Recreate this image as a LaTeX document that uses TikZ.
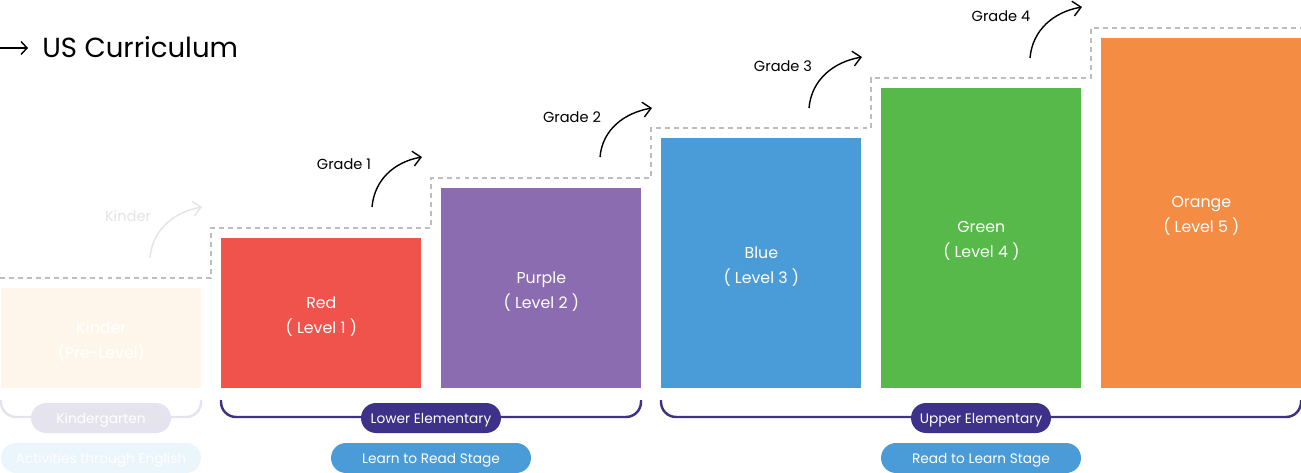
\documentclass[tikz,border=0pt]{standalone}
\usepackage{fontspec}
\setmainfont{Poppins}
\usepackage{xcolor}
\usetikzlibrary{positioning,arrows.meta,calc}

\definecolor{kinderbg}{HTML}{FFF6EB}
\definecolor{redlvl}{HTML}{F0534B}
\definecolor{purplelvl}{HTML}{8C6CB0}
\definecolor{bluelvl}{HTML}{4A9CD8}
\definecolor{greenlvl}{HTML}{56B94A}
\definecolor{orangelvl}{HTML}{F58C43}
\definecolor{stairgray}{HTML}{BDBDBD}
\definecolor{fadegray}{HTML}{E4E4E4}
\definecolor{elempurple}{HTML}{3E3189}
\definecolor{kinderpill}{HTML}{E5E4EE}
\definecolor{activpill}{HTML}{EBF5FC}

\begin{document}
\begin{tikzpicture}[
  x=0.02cm, y=-0.02cm,
  level/.style={rectangle, anchor=south west, minimum width=4cm, inner sep=0pt},
  lvltext/.style={inner sep=0pt, text=white, align=center, font=\fontsize{9}{14.2}\selectfont},
  stair/.style={draw=stairgray, dash pattern=on 2.8pt off 2.3pt, line width=1.1pt},
  gradearrow/.style={-{Straight Barb[length=0.16cm, width=0.3cm]}, line width=0.8pt},
  gradelabel/.style={inner sep=0pt, font=\fontsize{8.3}{10}\selectfont},
  bracket/.style={line width=1.4pt, rounded corners=0.3cm},
  pill/.style={rectangle, rounded corners=0.3cm, minimum height=0.6cm, inner sep=0pt,
    text height=8.2pt, text depth=1.6pt, text=white, font=\fontsize{7.8}{9}\selectfont}
]
\useasboundingbox (0,0) rectangle (1301,473);

% title
\node[anchor=west, inner sep=0pt, font=\fontsize{15.7}{19}\selectfont] (title) at (42,47) {US Curriculum};
\coordinate (tstart) at (0,48);
\coordinate (tend) at (28,48);
\draw[-{Straight Barb[length=0.12cm, width=0.26cm]}, line width=0.8pt] (tstart) -- (tend);

% levels
\node[level, fill=kinderbg, minimum height=2cm] (kinder) at (1,388) {};
\node[level, fill=redlvl, minimum height=3cm] (red) at (221,388) {};
\node[level, fill=purplelvl, minimum height=4cm] (purple) at (441,388) {};
\node[level, fill=bluelvl, minimum height=5cm] (blue) at (661,388) {};
\node[level, fill=greenlvl, minimum height=6cm] (green) at (881,388) {};
\node[level, fill=orangelvl, minimum height=7cm] (orange) at (1101,388) {};

\node[lvltext] (kindertxt) at ([yshift=-0.07cm]kinder.center) {Kinder\\(Pre-Level)};
\node[lvltext] (redtxt) at ([yshift=-0.07cm]red.center) {Red\\( Level 1 )};
\node[lvltext] (purpletxt) at ([yshift=-0.07cm]purple.center) {Purple\\( Level 2 )};
\node[lvltext] (bluetxt) at ([yshift=-0.07cm]blue.center) {Blue\\( Level 3 )};
\node[lvltext] (greentxt) at ([yshift=-0.07cm]green.center) {Green\\( Level 4 )};
\node[lvltext] (orangetxt) at ([yshift=-0.07cm]orange.center) {Orange\\( Level 5 )};

% dashed steps
\draw[stair] (0,278) -| (211,228) -| (431,178) -| (651,128) -| (871,78) -| (1091,28) -- (1301,28);

% grade arrows
\coordinate (kinA) at (150,258);  \coordinate (kinB) at (202,207);
\coordinate (g1A) at (372,207);   \coordinate (g1B) at (422,157);
\coordinate (g2A) at (600,157);   \coordinate (g2B) at (652,108);
\coordinate (g3A) at (809,108);   \coordinate (g3B) at (862,57);
\coordinate (g4A) at (1030,58);   \coordinate (g4B) at (1082,7);
\draw[gradearrow, draw=fadegray] (kinA) to[out=85, in=190] (kinB);
\draw[gradearrow] (g1A) to[out=85, in=190] (g1B);
\draw[gradearrow] (g2A) to[out=85, in=190] (g2B);
\draw[gradearrow] (g3A) to[out=85, in=190] (g3B);
\draw[gradearrow] (g4A) to[out=85, in=190] (g4B);

\node[gradelabel, text=fadegray] (kinlbl) at (128,216) {Kinder};
\node[gradelabel] (g1lbl) at (344,164) {Grade 1};
\node[gradelabel] (g2lbl) at (572,117) {Grade 2};
\node[gradelabel] (g3lbl) at (783,66) {Grade 3};
\node[gradelabel] (g4lbl) at (1001,16) {Grade 4};

% brackets
\draw[bracket, draw=kinderpill] (1,400) |- (101,417) -| (201,400);
\draw[bracket, draw=elempurple] (221,400) |- (431,417) -| (641,400);
\draw[bracket, draw=elempurple] (661,400) |- (981,417) -| (1301,400);

\node[pill, fill=kinderpill, minimum width=2.8cm] (kgarten) at (101,418) {Kindergarten};
\node[pill, fill=elempurple, minimum width=2.8cm] (lower) at (431,418) {Lower Elementary};
\node[pill, fill=elempurple, minimum width=2.8cm] (upper) at (981,418) {Upper Elementary};

\node[pill, fill=activpill, minimum width=4cm] (activ) at (101,458) {Activities through English};
\node[pill, fill=bluelvl, minimum width=4cm] (learnread) at (431,458) {Learn to Read Stage};
\node[pill, fill=bluelvl, minimum width=4cm] (readlearn) at (981,458) {Read to Learn Stage};
\end{tikzpicture}
\end{document}
